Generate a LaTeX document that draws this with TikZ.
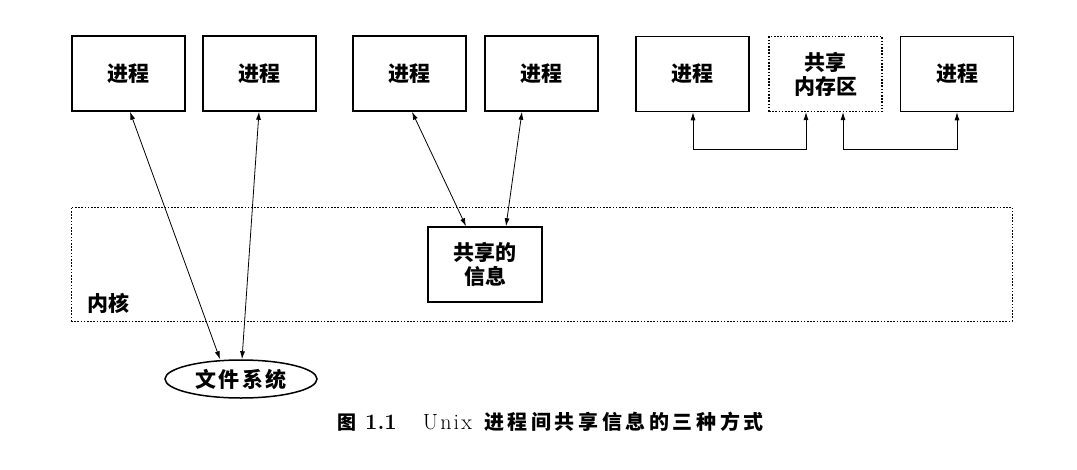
\documentclass[tikz,border=0pt]{standalone}
\usepackage{fontspec}
\newfontfamily\cjk{Noto Sans CJK SC}
\newfontfamily\cjksp{Noto Sans CJK SC}[LetterSpace=12]
\newfontfamily\capcjk{Noto Sans CJK SC}[LetterSpace=18]
\newfontfamily\caplat{Latin Modern Roman 10 Regular}[LetterSpace=10]
\newfontfamily\capnum{Latin Modern Roman 10 Bold}
\usetikzlibrary{arrows.meta,shapes.geometric}
\begin{document}
\begin{tikzpicture}[x=1pt,y=-1pt,
  lbl/.style={font=\cjk\bfseries\fontsize{21}{24}\selectfont},
  proc/.style={draw,line width=1.5pt,minimum width=113pt,minimum height=75pt,inner sep=0pt,lbl,align=center},
  dproc/.style={proc,line width=1.3pt,dash pattern=on 1.6pt off 1.6pt},
  conn/.style={line width=0.8pt,{Latex[length=8pt,width=5pt]}-{Latex[length=8pt,width=5pt]}}]
\useasboundingbox (0,0) rectangle (1077,469);
% kernel
\node[draw,line width=0.9pt,dash pattern=on 1.6pt off 1.6pt,minimum width=941pt,minimum height=114pt,inner sep=0pt] (kern) at (541.5,264) {};
\node[lbl,anchor=west,inner sep=0pt] (kl) at (87,303) {内核};
% processes
\node[proc] (p1) at (128.5,73.5) {进程};
\node[proc] (p2) at (259.5,73.5) {进程};
\node[proc] (p3) at (409.5,73.5) {进程};
\node[proc] (p4) at (541.5,73.5) {进程};
\node[proc] (p5) at (692.5,74) {进程};
\node[dproc] (shm) at (825.5,74) {共享\\内存区};
\node[proc] (p7) at (957,74) {进程};
% shared info
\node[proc,minimum width=114pt] (info) at (485,264.5) {共享的\\信息};
% file system
\node[draw,ellipse,line width=1.5pt,minimum width=152pt,minimum height=38pt,inner sep=0pt,font=\cjksp\bfseries\fontsize{21}{24}\selectfont] (fs) at (241,379) {文件系统};
% arrows
\draw[conn] (p1.south -| 130,0) -- (fs.north -| 220,0);
\draw[conn] (p2.south -| 259,0) -- (fs.north -| 242,0);
\draw[conn] (p3.south -| 412,0) -- (info.north -| 466,0);
\draw[conn] (p4.south -| 522,0) -- (info.north -| 506,0);
\coordinate (b1) at (693,149);
\coordinate (b2) at (806,149);
\coordinate (b3) at (843,149);
\coordinate (b4) at (957,149);
\draw[conn] (p5.south -| b1) -- (b1) -- (b2) -- (shm.south -| b2);
\draw[conn] (shm.south -| b3) -- (b3) -- (b4) -- (p7.south -| b4);
% caption
\node[anchor=west,inner sep=0pt,font=\fontsize{22}{24}\selectfont] (cap) at (337,422) {{\cjk\bfseries\fontsize{19}{22}\selectfont 图}\hspace{9pt}{\capnum 1.1}\hspace{26pt}{\caplat Unix}\hspace{12pt}{\capcjk\bfseries\fontsize{20}{22}\selectfont 进程间共享信息的三种方式}};
\end{tikzpicture}
\end{document}
